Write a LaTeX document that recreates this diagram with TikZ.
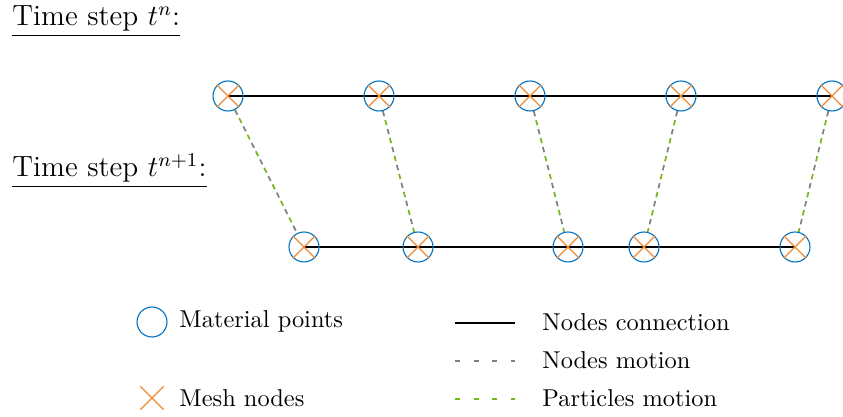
\documentclass[tikz,border=0pt]{standalone}
\usetikzlibrary{shapes.misc,backgrounds}

\definecolor{mpblue}{RGB}{0,114,189}
\definecolor{meshorange}{RGB}{237,137,49}
\definecolor{motiongreen}{RGB}{119,183,30}
\definecolor{motiongray}{RGB}{128,128,128}

\begin{document}
\begin{tikzpicture}[x=0.41pt,y=-0.41pt,
  particle/.style={circle, draw=mpblue, line width=0.45pt, minimum size=12.3pt, inner sep=0pt},
  meshnode/.style={cross out, draw=meshorange, line width=0.45pt, minimum size=8.7pt, inner sep=0pt},
  connection/.style={black, line width=0.75pt},
  nodesmotion/.style={motiongray, line width=0.7pt, dash pattern=on 2.2pt off 5.4pt},
  partmotion/.style={motiongreen, line width=0.7pt, dash pattern=on 2.2pt off 5.4pt, dash phase=3.8pt},
  txt/.style={inner sep=0pt, anchor=base west, font=\normalsize},
  title/.style={inner sep=0pt, anchor=base west, font=\large}]

  \useasboundingbox (0,0) rectangle (843,417);
  \clip (0,0) rectangle (843,417);

  % time step labels
  \node[title] (tn)  at (12,26)  {\underline{Time step $t^{n}$:}};
  \node[title] (tn1) at (12,177) {\underline{Time step $t^{n+1}$:}};

  % material points at t^n (top) and t^{n+1} (bottom)
  \foreach \i/\x in {1/228,2/379,3/530,4/681,5/832}{
    \node[particle] (a\i) at (\x,96) {};
    \node[meshnode] (ma\i) at (\x,96) {};
  }
  \foreach \i/\x in {1/304,2/418,3/568,4/644,5/795}{
    \node[particle] (b\i) at (\x,247) {};
    \node[meshnode] (mb\i) at (\x,247) {};
  }

  \begin{pgfonlayer}{background}
    % mesh connectivity
    \draw[connection] (a1.center) -- (a5.center);
    \draw[connection] (b1.center) -- (b5.center);
    % motion of nodes and particles
    \foreach \i in {1,...,5}{
      \draw[nodesmotion] (a\i) -- (b\i);
      \draw[partmotion]  (a\i) -- (b\i);
    }
  \end{pgfonlayer}

  % legend
  \node[particle] (lp) at (152,322) {};
  \node[txt] (lpt) at (179,328) {Material points};
  \node[meshnode, minimum size=9pt] (lm) at (152,398) {};
  \node[txt] (lmt) at (179,407) {Mesh nodes};

  \coordinate (c1a) at (455,323); \coordinate (c1b) at (515,323);
  \coordinate (c2a) at (455,361); \coordinate (c2b) at (515,361);
  \coordinate (c3a) at (455,399); \coordinate (c3b) at (515,399);
  \draw[connection] (c1a) -- (c1b);
  \draw[nodesmotion] (c2a) -- (c2b);
  \draw[motiongreen, line width=0.7pt, dash pattern=on 2.2pt off 5.4pt] (c3a) -- (c3b);
  \node[txt] (l1) at (542,331) {Nodes connection};
  \node[txt] (l2) at (542,368) {Nodes motion};
  \node[txt] (l3) at (542,407) {Particles motion};
\end{tikzpicture}
\end{document}
